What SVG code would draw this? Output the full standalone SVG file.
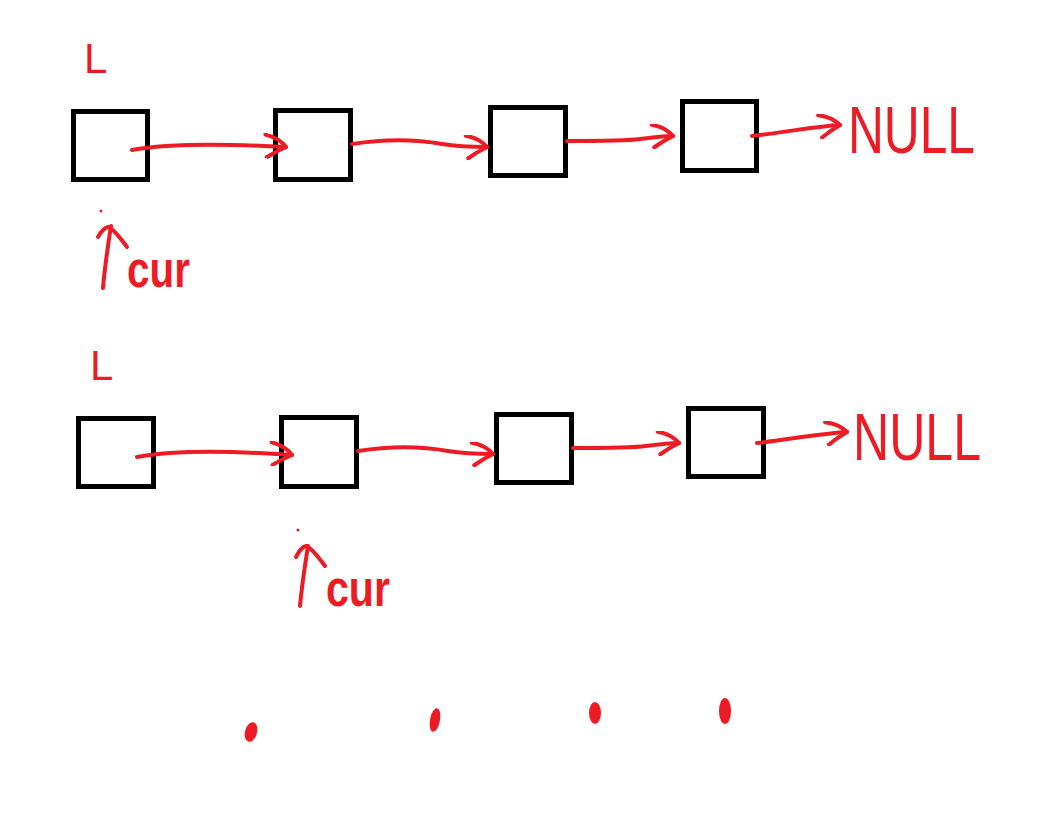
<svg xmlns="http://www.w3.org/2000/svg" width="1042" height="813" viewBox="0 0 1042 813">
<style>
.box{fill:none;stroke:#000;stroke-width:5}
.red{fill:none;stroke:#ed1c24;stroke-width:4;stroke-linecap:round;stroke-linejoin:round}
.lbl{fill:#ed1c24;font-family:"Liberation Sans",Arial,sans-serif}
.dot{fill:#ed1c24}
</style>
<defs>
<marker id="ah" markerUnits="userSpaceOnUse" markerWidth="30" markerHeight="25" refX="20" refY="10" orient="auto" viewBox="0 0 24 20">
<path d="M3,1 Q14,3 20,10 Q12,14 5,19" fill="none" stroke="#ed1c24" stroke-width="3.2" stroke-linecap="round" stroke-linejoin="round"/>
</marker>
</defs>
<rect width="1042" height="813" fill="#fff"/>

<g id="row1-label-L"><text class="lbl" x="84" y="73" font-size="42">L</text></g>
<g id="row1-node1"><rect class="box" x="73.5" y="111.5" width="74" height="68"/></g>
<g id="row1-node2"><rect class="box" x="275.5" y="110.5" width="75" height="69"/></g>
<g id="row1-node3"><rect class="box" x="490.5" y="107.5" width="75" height="68"/></g>
<g id="row1-node4"><rect class="box" x="682.5" y="101.5" width="74" height="69"/></g>
<g id="row1-null"><text class="lbl" x="848" y="153" font-size="66" textLength="127" lengthAdjust="spacingAndGlyphs">NULL</text></g>
<g id="row1-cur"><text class="lbl" x="127" y="287" font-size="52" font-weight="bold" textLength="63" lengthAdjust="spacingAndGlyphs">cur</text></g>

<g id="row2-label-L"><text class="lbl" x="90" y="380" font-size="42">L</text></g>
<g id="row2-node1"><rect class="box" x="78.5" y="418.5" width="75" height="68"/></g>
<g id="row2-node2"><rect class="box" x="281.5" y="417.5" width="75" height="69"/></g>
<g id="row2-node3"><rect class="box" x="496.5" y="414.5" width="75" height="68"/></g>
<g id="row2-node4"><rect class="box" x="688.5" y="408.5" width="75" height="68"/></g>
<g id="row2-null"><text class="lbl" x="853" y="460" font-size="66" textLength="128" lengthAdjust="spacingAndGlyphs">NULL</text></g>
<g id="row2-cur"><text class="lbl" x="326" y="606" font-size="52" font-weight="bold" textLength="64" lengthAdjust="spacingAndGlyphs">cur</text></g>

<g id="connectors">
<path class="red" d="M132,150 C170,143 230,144 286,147" marker-end="url(#ah)"/>
<path class="red" d="M352,144 C390,138 420,140 442,144 C460,147 475,147 487,147" marker-end="url(#ah)"/>
<path class="red" d="M567,141 C600,141 625,141 640,139 C655,137 665,136 673,136" marker-end="url(#ah)"/>
<path class="red" d="M752,136 C780,133 810,127 840,125" marker-end="url(#ah)"/>
<path class="red" d="M103,288 C105,265 108,245 111,226"/>
<path class="red" d="M98,237 Q103,228 108,227 Q113,228 127,247"/>

<path class="red" d="M137,457 C175,450 235,451 292,455" marker-end="url(#ah)"/>
<path class="red" d="M358,451 C396,445 426,447 448,451 C466,454 481,454 493,454" marker-end="url(#ah)"/>
<path class="red" d="M573,448 C606,448 631,448 646,446 C661,444 671,443 679,443" marker-end="url(#ah)"/>
<path class="red" d="M757,443 C786,440 816,434 847,432" marker-end="url(#ah)"/>
<path class="red" d="M300,606 C302,584 305,565 308,546"/>
<path class="red" d="M296,557 Q301,547 306,546 Q311,547 325,566"/>
</g>

<g id="marks">
<circle class="dot" cx="101" cy="211" r="1.5"/>
<circle class="dot" cx="298" cy="530" r="1.5"/>
<ellipse class="dot" cx="251" cy="732" rx="6" ry="10" transform="rotate(15 251 732)"/>
<ellipse class="dot" cx="435" cy="720" rx="5" ry="12" transform="rotate(10 435 720)"/>
<ellipse class="dot" cx="595" cy="713" rx="6" ry="11"/>
<ellipse class="dot" cx="725" cy="711" rx="6" ry="13"/>
</g>
</svg>
